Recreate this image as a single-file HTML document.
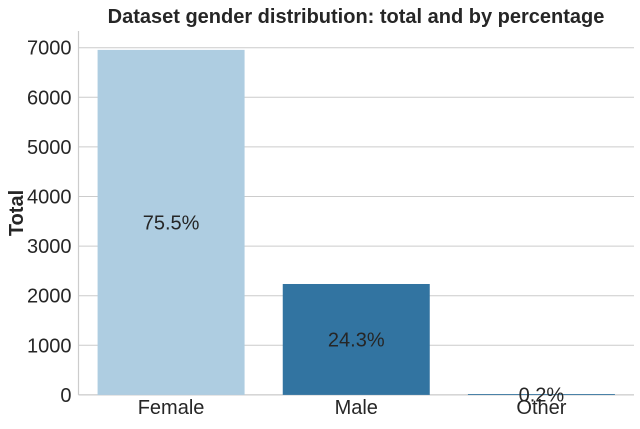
<!DOCTYPE html>
<html><head><meta charset="utf-8"><style>
body{margin:0;background:#fff;}
svg text{font-family:"Liberation Sans",sans-serif;fill:#262626;}
</style></head><body>
<svg id="chart" width="640" height="424" xmlns="http://www.w3.org/2000/svg">
<text x="356" y="23" text-anchor="middle" font-size="20" font-weight="bold">Dataset gender distribution: total and by percentage</text>
<text transform="translate(23,213) rotate(-90)" text-anchor="middle" font-size="20" font-weight="bold">Total</text>
<g id="grid"></g><g id="bars"></g><g id="labels"></g>
</svg>
<script>
const categories=["Female","Male","Other"];
const totals=[6956,2236,17];
const percentLabels=["75.5%","24.3%","0.2%"];
const yTicks=[0,1000,2000,3000,4000,5000,6000,7000];
const colors=["#aecde1","#3274a1","#3274a1"];
const NS="http://www.w3.org/2000/svg";
const L=78.5,R=634,B=394.9,T=31,perK=49.6;
const y=v=>B-v/1000*perK;
const band=(R-L)/categories.length;
const xc=i=>L+band*(i+0.5);
const bw=147;
const svg=document.getElementById('chart');
const g=document.getElementById('grid'),gb=document.getElementById('bars'),gl=document.getElementById('labels');
function mk(t,a,p){const e=document.createElementNS(NS,t);for(const k in a)e.setAttribute(k,a[k]);p.appendChild(e);return e;}
yTicks.forEach(t=>{
 const ln=mk('line',{x1:L,x2:R,y1:y(t),y2:y(t),stroke:'#cccccc','stroke-width':1},g);
 
 
 const tx=mk('text',{x:L-7,y:y(t)+7,'text-anchor':'end','font-size':20},g);
 tx.textContent=t;
 
 
});
const sp=mk('line',{x1:L,x2:L,y1:T,y2:B,stroke:'#cccccc','stroke-width':1.2},g);


categories.forEach((c,i)=>{
 const r=mk('rect',{x:xc(i)-bw/2,y:y(totals[i]),width:bw,height:B-y(totals[i]),fill:colors[i]},gb);
 
 
 const t=mk('text',{x:xc(i),y:y(totals[i]/2)+7,'text-anchor':'middle','font-size':20},gl);
 t.textContent=percentLabels[i];
 
 
 const xl=mk('text',{x:xc(i),y:414,'text-anchor':'middle','font-size':20},gl);
 xl.textContent=c;
 
 
});
const bl=mk('line',{x1:L,x2:R,y1:B,y2:B,stroke:'#cccccc','stroke-width':1.2},g);


</script>
</body></html>
